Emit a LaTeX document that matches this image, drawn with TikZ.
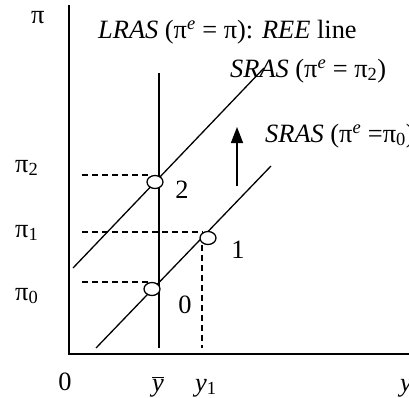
\documentclass[tikz,border=0pt]{standalone}
\usepackage{fontspec}
\setmainfont{Liberation Serif}
\usetikzlibrary{arrows.meta,shapes.geometric}
\begin{document}
\begin{tikzpicture}[x=1bp,y=-1bp,
  txt/.style={inner sep=0pt,font=\fontsize{26.5}{30}\selectfont},
  axisline/.style={line width=2bp},
  curve/.style={line width=1.3bp},
  guide/.style={line width=1.2bp,dash pattern=on 6bp off 4bp},
  eq/.style={draw,line width=1.3bp,fill=white,ellipse,minimum width=16bp,minimum height=13bp,inner sep=0pt}]
\useasboundingbox (0,0) rectangle (409,398);
% axes
\coordinate (ytop) at (69,5);
\coordinate (orig) at (69,354);
\coordinate (xend) at (412,354);
\draw[axisline] (ytop) -- (orig) -- (xend);
% curves
\coordinate (lt) at (159,73);
\coordinate (lb) at (159,348);
\draw[curve] (lt) -- (lb);
\coordinate (s2a) at (73,268);
\coordinate (s2b) at (264,68);
\draw[curve] (s2a) -- (s2b);
\coordinate (s0a) at (96,348);
\coordinate (s0b) at (271,166);
\draw[curve] (s0a) -- (s0b);
% arrow
\coordinate (arrB) at (237,186);
\coordinate (arrT) at (237,127);
\draw[line width=1.5bp,-{Triangle[length=16bp,width=12bp]}] (arrB) -- (arrT);
% dashed guides
\coordinate (d2) at (82,175);
\coordinate (d2e) at (150,175);
\coordinate (d1) at (82,232);
\coordinate (d1e) at (203,232);
\coordinate (d0) at (82,282);
\coordinate (d0e) at (148,282);
\coordinate (v1a) at (202,245);
\coordinate (v1b) at (202,348);
\draw[guide] (d2) -- (d2e);
\draw[guide] (d1) -- (d1e);
\draw[guide] (d0) -- (d0e);
\draw[guide] (v1a) -- (v1b);
% equilibrium points
\node[eq] (e2) at (155,182) {};
\node[eq] (e1) at (208,238) {};
\node[eq] (e0) at (152,289) {};
% labels
\node[txt,anchor=base west] (lpi) at (31,23) {π};
\node[txt,anchor=base west] (lpi2) at (15,172) {π\textsubscript{2}};
\node[txt,anchor=base west] (lpi1) at (15,237) {π\textsubscript{1}};
\node[txt,anchor=base west] (lpi0) at (15,300) {π\textsubscript{0}};
\node[txt] (n2) at (182,190) {2};
\node[txt] (n1) at (238,250) {1};
\node[txt] (n0) at (185,305) {0};
\node[txt] (x0) at (65,382) {0};
\node[txt,anchor=base] (xbar) at (158,391) {$\overline{\mbox{\fontsize{26.5}{30}\selectfont\itshape y}}$};
\node[txt,anchor=base west] (xy1) at (195,391) {\textit{y}\textsubscript{1}};
\node[txt,anchor=base west] (xy) at (400,391) {\textit{y}};
\node[txt,anchor=base west] (tl) at (98,38) {\textit{LRAS} (π\textsuperscript{\textit{e}} = π): \textit{REE} line};
\node[txt,anchor=base west] (ts2) at (230,77) {\textit{SRAS} (π\textsuperscript{\textit{e}} = π\textsubscript{2})};
\node[txt,anchor=base west] (ts0) at (265,142) {\textit{SRAS} (π\textsuperscript{\textit{e}} =π\textsubscript{0})};
\end{tikzpicture}
\end{document}
